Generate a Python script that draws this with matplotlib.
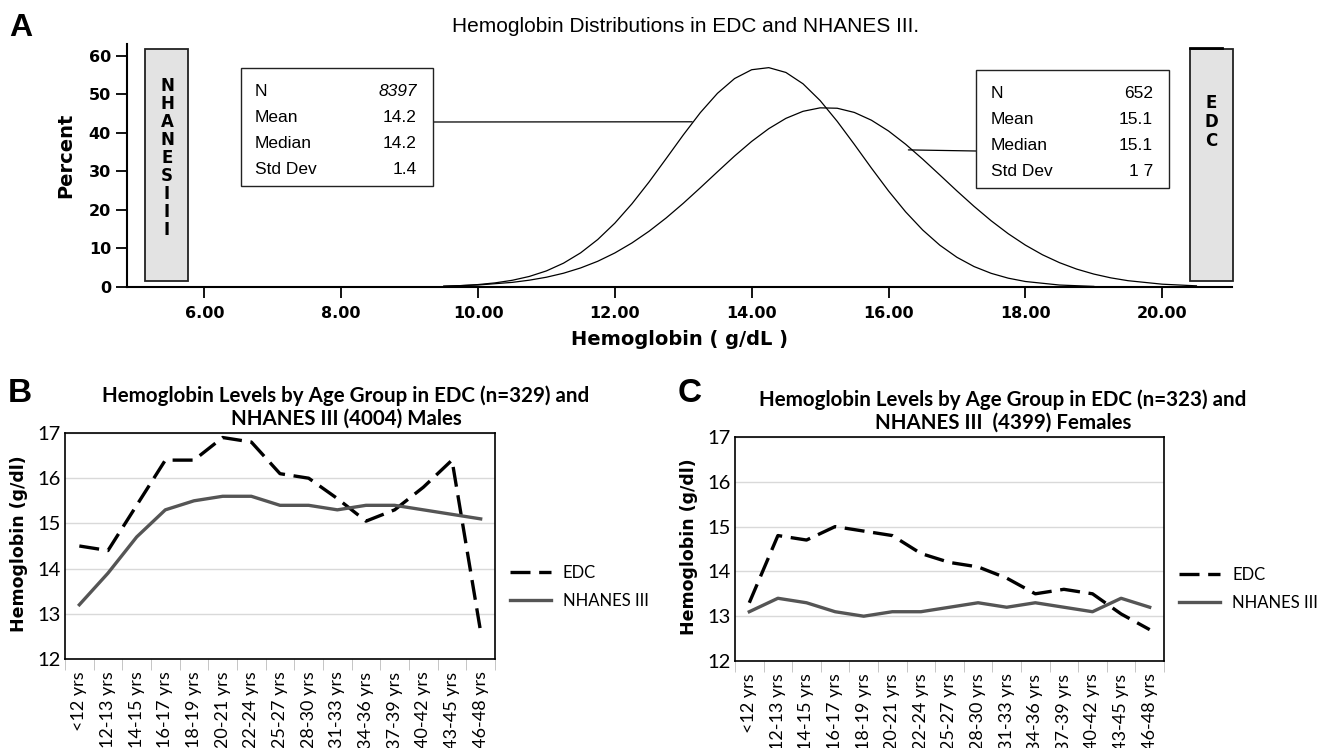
import matplotlib
matplotlib.use("Agg")
import matplotlib.pyplot as plt
from matplotlib.patches import Rectangle

# panel A: fitted distribution curves (percent)
hb_nhanes = [9.5, 9.75, 10.0, 10.25, 10.5, 10.75, 11.0, 11.25, 11.5, 11.75, 12.0, 12.25,
             12.5, 12.75, 13.0, 13.25, 13.5, 13.75, 14.0, 14.25, 14.5, 14.75, 15.0, 15.25,
             15.5, 15.75, 16.0, 16.25, 16.5, 16.75, 17.0, 17.25, 17.5, 17.75, 18.0, 18.5, 19.0]
pct_nhanes = [0.2, 0.36, 0.63, 1.07, 1.74, 2.74, 4.18, 6.19, 8.87, 12.33, 16.58, 21.61,
              27.27, 33.34, 39.48, 45.29, 50.3, 54.13, 56.42, 56.96, 55.71, 52.77, 48.42, 43.02,
              37.04, 30.88, 24.94, 19.51, 14.79, 10.85, 7.71, 5.31, 3.55, 2.29, 1.43, 0.51, 0.16]
hb_edc = [9.5, 10.0, 10.5, 10.75, 11.0, 11.25, 11.5, 11.75, 12.0, 12.25, 12.5, 12.75, 13.0,
          13.25, 13.5, 13.75, 14.0, 14.25, 14.5, 14.75, 15.0, 15.25, 15.5, 15.75, 16.0, 16.25,
          16.5, 16.75, 17.0, 17.25, 17.5, 17.75, 18.0, 18.25, 18.5, 18.75, 19.0, 19.25, 19.5,
          20.0, 20.5]
pct_edc = [0.21, 0.52, 1.2, 1.77, 2.54, 3.58, 4.95, 6.68, 8.84, 11.44, 14.48, 17.93, 21.73,
           25.78, 29.92, 34.01, 37.81, 41.12, 43.79, 45.62, 46.52, 46.42, 45.33, 43.31, 40.51,
           37.07, 33.19, 29.09, 24.94, 20.94, 17.2, 13.83, 10.88, 8.37, 6.31, 4.65, 3.36, 2.37,
           1.64, 0.73, 0.3]
stats_names = ["N", "Mean", "Median", "Std Dev"]
stats_nhanes = ["8397", "14.2", "14.2", "1.4"]
stats_edc = ["652", "15.1", "15.1", "1 7"]
a_xticks = [6, 8, 10, 12, 14, 16, 18, 20]
a_yticks = [0, 10, 20, 30, 40, 50, 60]

# panels B and C
age_groups = ["<12 yrs", "12-13 yrs", "14-15 yrs", "16-17 yrs", "18-19 yrs", "20-21 yrs",
              "22-24 yrs", "25-27 yrs", "28-30 yrs", "31-33 yrs", "34-36 yrs", "37-39 yrs",
              "40-42 yrs", "43-45 yrs", "46-48 yrs"]
edc_male = [14.5, 14.4, 15.4, 16.4, 16.4, 16.9, 16.8, 16.1, 16.0, 15.55, 15.05, 15.3, 15.8, 16.4, 12.6]
nhanes_male = [13.2, 13.9, 14.7, 15.3, 15.5, 15.6, 15.6, 15.4, 15.4, 15.3, 15.4, 15.4, 15.3, 15.2, 15.1]
edc_female = [13.3, 14.8, 14.7, 15.0, 14.9, 14.8, 14.4, 14.2, 14.1, 13.85, 13.5, 13.6, 13.5, 13.05, 12.7]
nhanes_female = [13.1, 13.4, 13.3, 13.1, 13.0, 13.1, 13.1, 13.2, 13.3, 13.2, 13.3, 13.2, 13.1, 13.4, 13.2]

W, H = 1320, 748
fig = plt.figure(figsize=(W / 100, H / 100), dpi=100)

def rect(l, t, r, b):
    return [l / W, 1 - b / H, (r - l) / W, (b - t) / H]

arial = ["Liberation Sans", "DejaVu Sans"]
calibri = ["Lato", "DejaVu Sans"]

# ---------- panel A ----------
ax = fig.add_axes(rect(127, 44, 1232, 287))
ax.plot(hb_nhanes, pct_nhanes, color="black", lw=0.9)
ax.plot(hb_edc, pct_edc, color="black", lw=0.9)
ax.set_xlim(4.87, 21.02)
ax.set_ylim(0, 63.1)
for s in ["top", "right"]:
    ax.spines[s].set_visible(False)
ax.spines["left"].set_linewidth(1.5)
ax.spines["bottom"].set_linewidth(1.5)
ax.set_xticks(a_xticks)
ax.set_xticklabels([f"{v:.2f}" for v in a_xticks])
ax.set_yticks(a_yticks)
ax.tick_params(axis="both", width=1.3, length=8, labelsize=11.5)
ax.tick_params(axis="x", pad=6)
for lab in ax.get_xticklabels() + ax.get_yticklabels():
    lab.set_fontweight("bold")
ax.set_xlabel("Hemoglobin ( g/dL )", fontsize=14, fontweight="bold", labelpad=6)
ax.set_ylabel("Percent", fontsize=14, fontweight="bold")
ax.yaxis.set_label_coords(-0.047, 0.54)
fig.text(686 / W, 1 - 27 / H, "Hemoglobin Distributions in EDC and NHANES III.",
         ha="center", va="center", fontsize=15, family=arial)

# side boxes
for (l, r) in [(145, 188), (1190, 1233)]:
    fig.patches.append(Rectangle((l / W, 1 - 281 / H), (r - l) / W, (281 - 49) / H,
                                 transform=fig.transFigure, facecolor="#e3e3e3",
                                 edgecolor="#222222", lw=1.3))
fig.text(167 / W, 1 - 158 / H, "N\nH\nA\nN\nE\nS\nI\nI\nI", ha="center", va="center",
         fontsize=12, fontweight="bold", linespacing=1.0)
fig.text(1211 / W, 1 - 122 / H, "E\nD\nC", ha="center", va="center",
         fontsize=12, fontweight="bold", linespacing=1.1)
fig.add_artist(plt.Line2D([1190 / W, 1222 / W], [1 - 48 / H, 1 - 48 / H], color="black", lw=2))

# stats boxes
for (l, t, r, b, vals, vx, lx) in [(241, 68, 433, 186, stats_nhanes, 417, 255),
                                    (976, 70, 1169, 188, stats_edc, 1153, 991)]:
    fig.patches.append(Rectangle((l / W, 1 - b / H), (r - l) / W, (b - t) / H,
                                 transform=fig.transFigure, facecolor="white",
                                 edgecolor="#222222", lw=1.0))
    for i, (nm, v) in enumerate(zip(stats_names, vals)):
        y = 1 - (t + 24 + 25.7 * i) / H
        fig.text(lx / W, y, nm, ha="left", va="center", fontsize=12.5, family=arial)
        fig.text(vx / W, y, v, ha="right", va="center", fontsize=12.5, family=arial,
                 style="italic" if (i == 0 and vals is stats_nhanes) else "normal")

# connectors from boxes to curves
ax.annotate("", xy=(13.13, 42.9), xytext=(433 / W, 1 - 122 / H), xycoords="data",
            textcoords="figure fraction",
            arrowprops=dict(arrowstyle="-", color="black", lw=0.9, shrinkA=0, shrinkB=0))
ax.annotate("", xy=(16.29, 35.6), xytext=(976 / W, 1 - 151 / H), xycoords="data",
            textcoords="figure fraction",
            arrowprops=dict(arrowstyle="-", color="black", lw=0.9, shrinkA=0, shrinkB=0))

fig.text(9 / W, 1 - 28 / H, "A", fontsize=23, fontweight="bold", va="center", family=arial)

# ---------- panels B and C ----------
def age_panel(box, edc, nh, title, title_cx, letter_xy, leg_x, leg_y):
    axp = fig.add_axes(rect(*box))
    bw = box[2] - box[0]
    x = list(range(len(age_groups)))
    axp.yaxis.grid(True, color="#d9d9d9", lw=1)
    axp.set_axisbelow(True)
    axp.plot(x, edc, color="black", lw=2.4, dashes=(6, 2.6), label="EDC")
    axp.plot(x, nh, color="#555555", lw=2.4, label="NHANES III")
    axp.set_xlim(-0.5, len(age_groups) - 0.5)
    axp.set_ylim(12, 17)
    axp.set_yticks([12, 13, 14, 15, 16, 17])
    axp.set_xticks(x)
    axp.set_xticklabels(age_groups, rotation=90, fontsize=13, family=calibri)
    axp.set_xticks([i - 0.5 for i in range(len(age_groups) + 1)], minor=True)
    axp.tick_params(axis="x", which="major", length=0, pad=9)
    axp.tick_params(axis="x", which="minor", length=8, color="#bbbbbb")
    axp.tick_params(axis="y", length=0, labelsize=14.5, pad=3)
    for lab in axp.get_yticklabels():
        lab.set_family(calibri)
    for s in axp.spines.values():
        s.set_linewidth(1.2)
    axp.set_ylabel("Hemoglobin (g/dl)", fontsize=12.5, fontweight="bold")
    axp.yaxis.set_label_coords(-37 / bw, 0.51)
    axp.set_title(title, fontsize=14.8, fontweight="bold", family=calibri,
                  linespacing=1.15, pad=6, x=(title_cx - box[0]) / bw)
    fig.text(letter_xy[0] / W, 1 - letter_xy[1] / H, letter_xy[2], fontsize=24,
             fontweight="bold", va="center", family=arial)
    axp.legend(loc="center left", bbox_to_anchor=((leg_x - box[0]) / bw,
                                                   1 - (leg_y - box[1]) / (box[3] - box[1])),
               frameon=False, handlelength=2.5, handletextpad=0.7,
               labelspacing=0.75, borderaxespad=0, prop={"family": calibri, "size": 12})
    return axp

age_panel((65, 433, 495, 659), edc_male, nhanes_male,
          "Hemoglobin Levels by Age Group in EDC (n=329) and\nNHANES III (4004) Males",
          346, (8, 393, "B"), 503, 587)
age_panel((735, 437, 1164, 661), edc_female, nhanes_female,
          "Hemoglobin Levels by Age Group in EDC (n=323) and\nNHANES III  (4399) Females",
          1003, (678, 394, "C"), 1172, 589)

fig.savefig("out.png", dpi=100)
